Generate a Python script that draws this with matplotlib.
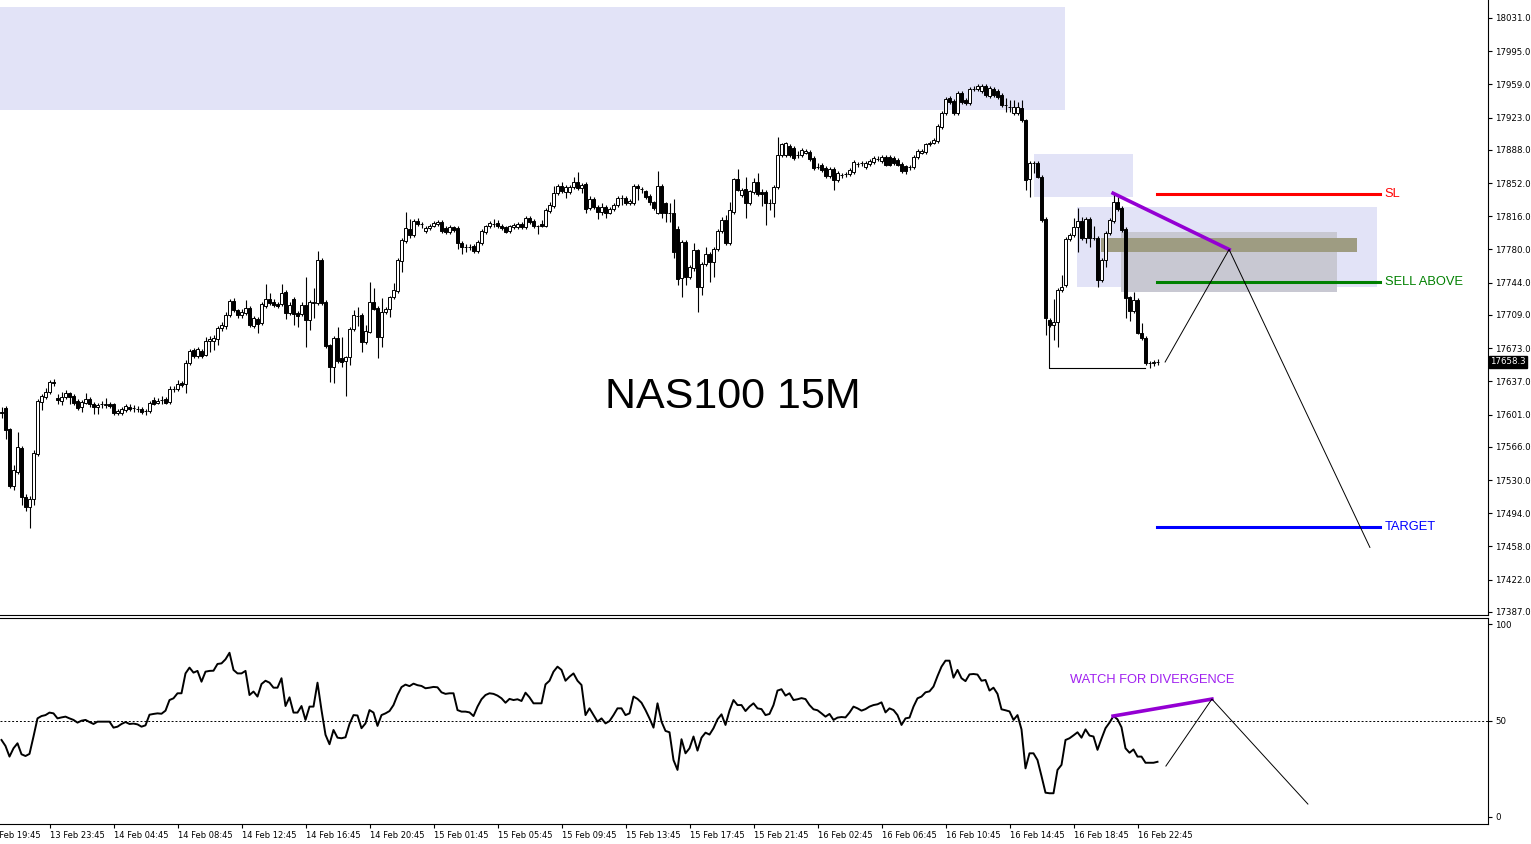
import numpy as np
import matplotlib.pyplot as plt
from matplotlib.transforms import blended_transform_factory

# NAS100 15M candles, bar 0 = first visible bar
opens = [17604, 17608, 17585, 17524, 17539, 17565, 17512, 17501, 17510, 17558,
         17615, 17620, 17625, 17636, 17619, 17616, 17620, 17624, 17621, 17616,
         17609, 17614, 17618, 17613, 17609, 17612, 17611, 17613, 17612, 17603,
         17603, 17606, 17609, 17608, 17607, 17607, 17605, 17605, 17617, 17614,
         17617, 17618, 17615, 17629, 17629, 17635, 17634, 17657, 17671, 17665,
         17670, 17666, 17681, 17681, 17683, 17695, 17697, 17709, 17724, 17714,
         17709, 17711, 17717, 17697, 17705, 17700, 17719, 17726, 17723, 17721,
         17721, 17734, 17711, 17726, 17711, 17710, 17720, 17704, 17722, 17722,
         17769, 17723, 17676, 17653, 17684, 17662, 17659, 17663, 17694, 17708,
         17709, 17680, 17691, 17723, 17717, 17685, 17712, 17715, 17728, 17735,
         17768, 17789, 17802, 17796, 17811, 17808, 17800, 17803, 17806, 17808,
         17810, 17803, 17799, 17804, 17803, 17787, 17783, 17783, 17784, 17778,
         17787, 17799, 17805, 17808, 17809, 17806, 17804, 17800, 17804, 17804,
         17808, 17804, 17814, 17811, 17805, 17808, 17806, 17822, 17827, 17841,
         17849, 17842, 17842, 17848, 17853, 17847, 17851, 17825, 17835, 17826,
         17821, 17826, 17820, 17824, 17828, 17836, 17836, 17830, 17830, 17849,
         17846, 17843, 17838, 17831, 17820, 17849, 17830, 17820, 17820, 17802,
         17749, 17788, 17750, 17760, 17779, 17739, 17764, 17775, 17766, 17780,
         17800, 17812, 17787, 17821, 17856, 17839, 17846, 17830, 17842, 17853,
         17842, 17842, 17830, 17830, 17848, 17882, 17882, 17892, 17890, 17882,
         17882, 17885, 17886, 17879, 17869, 17872, 17868, 17860, 17867, 17855,
         17861, 17862, 17862, 17864, 17873, 17874, 17869, 17873, 17875, 17878,
         17876, 17880, 17880, 17879, 17877, 17873, 17870, 17869, 17869, 17880,
         17885, 17886, 17894, 17896, 17898, 17913, 17928, 17944, 17941, 17928,
         17950, 17942, 17939, 17954, 17954, 17952, 17957, 17946, 17954, 17952,
         17948, 17937, 17935, 17928, 17928, 17933, 17920, 17856, 17874, 17874,
         17859, 17813, 17704, 17698, 17701, 17736, 17741, 17791, 17796, 17804,
         17811, 17792, 17813, 17793, 17793, 17747, 17769, 17798, 17811, 17831,
         17825, 17802, 17728, 17713, 17725, 17690, 17684, 17657, 17657, 17658]
highs = [17609, 17610, 17586, 17546, 17582, 17567, 17515, 17513, 17563, 17618,
         17623, 17630, 17639, 17640, 17623, 17625, 17628, 17626, 17623, 17618,
         17617, 17624, 17620, 17615, 17614, 17616, 17619, 17615, 17614, 17607,
         17609, 17612, 17612, 17611, 17610, 17609, 17607, 17616, 17620, 17619,
         17621, 17620, 17632, 17632, 17638, 17637, 17660, 17672, 17673, 17674,
         17672, 17685, 17686, 17687, 17697, 17701, 17712, 17726, 17727, 17716,
         17715, 17725, 17719, 17708, 17707, 17723, 17743, 17733, 17726, 17723,
         17743, 17736, 17723, 17729, 17713, 17723, 17750, 17725, 17738, 17778,
         17771, 17725, 17678, 17686, 17696, 17685, 17665, 17696, 17714, 17718,
         17711, 17698, 17745, 17738, 17719, 17727, 17718, 17730, 17744, 17771,
         17792, 17821, 17813, 17813, 17814, 17810, 17805, 17808, 17811, 17812,
         17812, 17805, 17807, 17806, 17805, 17789, 17786, 17786, 17786, 17790,
         17802, 17807, 17811, 17813, 17812, 17808, 17806, 17807, 17809, 17810,
         17810, 17816, 17816, 17813, 17807, 17812, 17825, 17832, 17849, 17851,
         17853, 17850, 17850, 17859, 17864, 17852, 17853, 17838, 17837, 17828,
         17830, 17828, 17826, 17830, 17838, 17839, 17838, 17835, 17851, 17851,
         17848, 17845, 17840, 17833, 17865, 17851, 17832, 17830, 17835, 17805,
         17790, 17790, 17763, 17787, 17781, 17766, 17783, 17777, 17783, 17802,
         17815, 17817, 17831, 17858, 17867, 17847, 17859, 17845, 17858, 17863,
         17846, 17844, 17835, 17850, 17902, 17896, 17897, 17894, 17892, 17887,
         17890, 17889, 17888, 17881, 17874, 17874, 17870, 17869, 17869, 17865,
         17863, 17864, 17868, 17877, 17875, 17876, 17876, 17878, 17881, 17881,
         17882, 17882, 17882, 17881, 17879, 17875, 17872, 17872, 17882, 17889,
         17889, 17896, 17898, 17901, 17916, 17930, 17945, 17946, 17943, 17952,
         17952, 17944, 17956, 17957, 17959, 17959, 17959, 17957, 17956, 17954,
         17950, 17944, 17942, 17942, 17940, 17942, 17922, 17876, 17876, 17876,
         17861, 17815, 17706, 17726, 17738, 17752, 17794, 17798, 17814, 17825,
         17815, 17815, 17815, 17806, 17795, 17771, 17800, 17814, 17841, 17837,
         17827, 17804, 17730, 17734, 17727, 17700, 17686, 17659, 17660, 17661]
lows = [17597, 17575, 17521, 17519, 17537, 17503, 17497, 17478, 17503, 17556,
        17606, 17618, 17623, 17632, 17612, 17611, 17618, 17613, 17611, 17606,
        17604, 17612, 17609, 17602, 17602, 17608, 17608, 17608, 17601, 17601,
        17601, 17604, 17605, 17604, 17604, 17602, 17601, 17603, 17611, 17612,
        17613, 17612, 17613, 17626, 17627, 17631, 17624, 17655, 17662, 17662,
        17662, 17664, 17669, 17671, 17676, 17692, 17694, 17707, 17712, 17706,
        17706, 17709, 17696, 17695, 17690, 17698, 17717, 17720, 17718, 17717,
        17719, 17705, 17709, 17698, 17696, 17708, 17674, 17693, 17706, 17720,
        17720, 17673, 17636, 17635, 17657, 17653, 17621, 17655, 17692, 17697,
        17669, 17678, 17689, 17714, 17662, 17674, 17710, 17707, 17726, 17733,
        17756, 17787, 17793, 17794, 17806, 17803, 17798, 17801, 17804, 17806,
        17798, 17797, 17797, 17799, 17781, 17775, 17777, 17779, 17776, 17776,
        17785, 17797, 17803, 17804, 17803, 17801, 17798, 17798, 17802, 17802,
        17802, 17802, 17808, 17803, 17797, 17804, 17804, 17820, 17825, 17839,
        17841, 17836, 17840, 17846, 17845, 17841, 17820, 17823, 17824, 17813,
        17817, 17814, 17818, 17822, 17826, 17828, 17828, 17828, 17828, 17834,
        17841, 17835, 17828, 17823, 17818, 17814, 17810, 17810, 17771, 17741,
        17728, 17741, 17748, 17757, 17712, 17731, 17762, 17745, 17750, 17778,
        17798, 17785, 17785, 17819, 17843, 17837, 17814, 17828, 17840, 17838,
        17827, 17807, 17823, 17815, 17846, 17880, 17880, 17880, 17877, 17879,
        17880, 17883, 17876, 17866, 17867, 17864, 17858, 17858, 17845, 17853,
        17857, 17859, 17860, 17862, 17869, 17871, 17867, 17871, 17873, 17876,
        17874, 17870, 17870, 17872, 17870, 17863, 17862, 17866, 17867, 17878,
        17883, 17884, 17892, 17894, 17896, 17911, 17926, 17938, 17926, 17926,
        17938, 17937, 17937, 17952, 17952, 17950, 17945, 17944, 17945, 17943,
        17935, 17929, 17929, 17926, 17926, 17918, 17844, 17837, 17863, 17857,
        17810, 17687, 17696, 17682, 17674, 17734, 17739, 17789, 17794, 17777,
        17790, 17787, 17783, 17790, 17739, 17745, 17761, 17796, 17809, 17822,
        17799, 17706, 17703, 17711, 17688, 17682, 17655, 17651, 17654, 17655]
closes = [17603, 17584, 17524, 17541, 17566, 17512, 17501, 17510, 17559, 17616,
          17621, 17626, 17636, 17635, 17617, 17620, 17624, 17620, 17614, 17608,
          17615, 17618, 17613, 17609, 17611, 17612, 17612, 17610, 17603, 17605,
          17607, 17610, 17607, 17608, 17607, 17604, 17605, 17614, 17613, 17616,
          17617, 17614, 17629, 17629, 17634, 17633, 17657, 17670, 17665, 17672,
          17665, 17681, 17683, 17684, 17695, 17698, 17709, 17724, 17714, 17709,
          17712, 17717, 17698, 17706, 17699, 17721, 17726, 17722, 17720, 17719,
          17733, 17711, 17720, 17710, 17708, 17720, 17704, 17723, 17723, 17769,
          17722, 17675, 17653, 17684, 17659, 17658, 17663, 17694, 17709, 17708,
          17680, 17692, 17723, 17716, 17685, 17712, 17715, 17728, 17736, 17769,
          17790, 17803, 17796, 17811, 17808, 17808, 17803, 17806, 17809, 17810,
          17800, 17799, 17804, 17801, 17787, 17783, 17783, 17783, 17778, 17788,
          17800, 17805, 17809, 17808, 17805, 17803, 17799, 17805, 17807, 17808,
          17804, 17814, 17810, 17805, 17805, 17806, 17823, 17828, 17841, 17849,
          17843, 17848, 17848, 17853, 17847, 17850, 17824, 17835, 17826, 17821,
          17826, 17820, 17824, 17828, 17836, 17836, 17830, 17833, 17849, 17847,
          17846, 17837, 17831, 17825, 17849, 17820, 17820, 17820, 17777, 17748,
          17788, 17750, 17761, 17779, 17739, 17764, 17775, 17766, 17781, 17800,
          17812, 17787, 17823, 17856, 17845, 17845, 17830, 17843, 17853, 17840,
          17840, 17830, 17830, 17848, 17882, 17894, 17895, 17882, 17879, 17882,
          17888, 17887, 17878, 17868, 17869, 17866, 17860, 17867, 17855, 17863,
          17861, 17862, 17866, 17875, 17873, 17874, 17874, 17876, 17879, 17878,
          17880, 17872, 17872, 17874, 17872, 17865, 17865, 17869, 17880, 17887,
          17887, 17894, 17896, 17899, 17914, 17928, 17943, 17940, 17928, 17950,
          17940, 17939, 17954, 17954, 17957, 17957, 17947, 17955, 17947, 17945,
          17937, 17937, 17935, 17935, 17935, 17920, 17855, 17874, 17874, 17859,
          17812, 17706, 17698, 17701, 17736, 17739, 17791, 17796, 17804, 17811,
          17792, 17813, 17792, 17793, 17747, 17769, 17798, 17812, 17831, 17824,
          17801, 17727, 17713, 17725, 17690, 17684, 17657, 17657, 17658, 17658]
rsi = [39.9, 36.8, 31.3, 35.6, 38.2, 32.5, 31.6, 32.7, 41.7, 51.1,
       52.3, 52.8, 54.1, 53.7, 51.1, 51.6, 52.0, 51.1, 50.3, 48.9,
       49.9, 50.3, 49.2, 48.2, 49.4, 49.4, 49.4, 49.4, 46.3, 46.8,
       48.2, 49.2, 48.2, 48.4, 48.0, 46.8, 47.5, 53.0, 53.4, 53.7,
       53.5, 55.1, 60.6, 61.5, 64.1, 64.1, 74.4, 77.4, 74.8, 75.7,
       70.1, 75.3, 75.7, 75.8, 79.3, 79.6, 81.7, 85.1, 76.2, 74.4,
       74.4, 75.7, 63.2, 65.0, 62.4, 68.9, 70.6, 69.6, 67.0, 67.0,
       71.9, 57.5, 62.0, 54.1, 54.1, 57.5, 50.3, 57.2, 57.2, 69.6,
       55.4, 42.6, 37.7, 45.1, 41.1, 40.8, 41.3, 48.2, 52.8, 52.6,
       46.0, 48.5, 55.4, 54.1, 47.2, 52.8, 53.7, 54.9, 58.0, 63.2,
       67.3, 68.6, 67.8, 69.1, 68.3, 67.9, 66.7, 67.0, 67.4, 67.2,
       64.6, 63.8, 64.1, 64.1, 55.4, 54.6, 54.6, 54.2, 52.3, 57.2,
       61.0, 63.2, 64.1, 63.8, 62.9, 61.5, 59.2, 61.2, 60.6, 61.0,
       60.1, 64.4, 62.0, 58.9, 58.9, 58.9, 68.7, 70.6, 75.3, 77.9,
       76.2, 70.6, 72.7, 74.4, 70.6, 68.4, 52.8, 56.3, 52.8, 49.4,
       51.1, 48.5, 49.7, 52.8, 56.3, 56.3, 52.8, 53.7, 62.4, 61.2,
       59.2, 55.4, 51.1, 46.3, 58.9, 49.4, 44.6, 43.9, 29.5, 24.4,
       40.3, 33.0, 35.6, 41.7, 34.4, 41.1, 43.7, 42.7, 46.0, 50.6,
       53.2, 47.7, 55.1, 60.6, 58.0, 58.0, 54.9, 57.2, 58.9, 56.3,
       55.9, 52.8, 53.4, 58.0, 65.5, 66.2, 62.9, 64.1, 60.6, 61.0,
       61.6, 61.1, 58.0, 55.8, 55.3, 53.7, 52.0, 53.4, 50.3, 51.5,
       51.8, 51.6, 54.1, 57.2, 56.3, 55.1, 55.9, 57.2, 58.0, 58.4,
       59.4, 54.2, 56.3, 55.4, 52.8, 47.7, 51.1, 51.5, 57.2, 61.5,
       62.4, 64.6, 65.1, 67.6, 73.0, 77.9, 81.0, 81.0, 72.2, 76.2,
       71.9, 70.4, 73.9, 74.1, 73.8, 70.6, 71.0, 65.5, 67.0, 63.8,
       55.8, 55.3, 54.7, 50.3, 52.8, 45.4, 25.2, 33.0, 33.0, 29.5,
       21.2, 12.6, 12.3, 12.3, 24.4, 27.0, 39.9, 40.8, 42.3, 43.9,
       41.1, 45.4, 42.2, 41.7, 34.8, 40.6, 46.0, 48.9, 52.3, 50.6,
       46.5, 35.6, 33.3, 35.0, 31.3, 31.3, 28.1, 28.1, 28.1, 28.6]

price_ticks = [18031, 17995, 17959, 17923, 17888, 17852, 17816, 17780, 17744, 17709,
               17673, 17637, 17601, 17566, 17530, 17494, 17458, 17422, 17387]
last_price = 17658.3
time_bars = [-4, 12, 28, 44, 60, 76, 92, 108, 124, 140,
             156, 172, 188, 204, 220, 236, 252, 268, 284]
time_labels = ['13 Feb 19:45', '13 Feb 23:45', '14 Feb 04:45', '14 Feb 08:45', '14 Feb 12:45',
               '14 Feb 16:45', '14 Feb 20:45', '15 Feb 01:45', '15 Feb 05:45', '15 Feb 09:45',
               '15 Feb 13:45', '15 Feb 17:45', '15 Feb 21:45', '16 Feb 02:45', '16 Feb 06:45',
               '16 Feb 10:45', '16 Feb 14:45', '16 Feb 18:45', '16 Feb 22:45']

# drawn objects: zones (bar from, bar to, price low, price high, colour)
zones = [(-1, 265.9, 17931, 18043, '#E2E3F7'),
         (258.1, 282.9, 17837, 17883, '#E2E3F7'),
         (268.9, 343.9, 17739, 17826, '#E2E3F7'),
         (279.9, 333.9, 17734, 17799, '#C8C8D2'),
         (274.9, 338.9, 17777, 17792, '#9E9C82')]
levels = [('SL', 17840, '#FF0000'), ('SELL ABOVE', 17745, '#008000'), ('TARGET', 17479, '#0000FF')]
level_from, level_to = 288.9, 344.6
purple_px = ([277.9, 306.9], [17841, 17780])
path_px = ([290.9, 306.9, 342.1], [17658, 17780, 17457])
bracket_px = ([261.9, 261.9, 285.9], [17698, 17651, 17651])
purple_rsi = ([277.9, 302.6], [52.3, 61.1])
path_rsi = ([291.1, 302.6, 326.6], [26.4, 61.1, 6.7])

W, H = 1531, 844
fig = plt.figure(figsize=(W / 100, H / 100), dpi=100)
ax = fig.add_axes([0, 1 - 615 / H, 1488 / W, 615 / H])
ax2 = fig.add_axes([0, 1 - 824 / H, 1488 / W, 206 / H])

x = np.arange(len(closes))
o, c = np.array(opens), np.array(closes)
up = c >= o

for x0, x1, lo, hi, col in zones:
    ax.fill_between([x0, x1], lo, hi, color=col, lw=0, zorder=0)

ax.vlines(x, lows, highs, color='black', lw=0.8, zorder=2)
ax.bar(x, np.abs(c - o), bottom=np.minimum(o, c), width=0.6,
       color=np.where(up, 'white', 'black'), edgecolor='black', linewidth=0.7, zorder=3)

for name, lvl, col in levels:
    ax.plot([level_from, level_to], [lvl, lvl], color=col, lw=2.2, zorder=4)
    ax.text(level_to + 1.2, lvl, name, color=col, fontsize=9.3, va='center',
            family='Liberation Sans')

ax.plot(*purple_px, color='#9400D3', lw=2.6, zorder=5)
ax.plot(*path_px, color='black', lw=0.7, zorder=5)
ax.plot(*bracket_px, color='black', lw=0.8, zorder=5)
ax.text(182.9, 17620, 'NAS100 15M', fontsize=31, ha='center', va='center',
        family='Liberation Sans')

ax.set_xlim(-0.375, 371.625)
ax.set_ylim(18050.5 - 615 * 1.0842, 18050.5)
ax.yaxis.tick_right()
ax.set_yticks(price_ticks, [f'{p:.1f}' for p in price_ticks])
ax.tick_params(axis='y', labelsize=6.2, length=3, pad=2)
ax.set_xticks([])
for s in ['left', 'top']:
    ax.spines[s].set_visible(False)

tr = blended_transform_factory(ax.transAxes, ax.transData)
ax.text(1.0015, last_price, f'{last_price:.1f}', transform=tr, fontsize=6.2, color='white',
        va='center', ha='left', bbox=dict(boxstyle='square,pad=0.15', fc='black', ec='black'))

# RSI pane
ax2.plot(x, rsi, color='black', lw=1.4)
ax2.axhline(50, color='black', lw=0.7, ls=(0, (2, 2)))
ax2.plot(*purple_rsi, color='#9400D3', lw=2.6)
ax2.plot(*path_rsi, color='black', lw=0.7)
ax2.text(267.1, 71.0, 'WATCH FOR DIVERGENCE', color='#A020F0', fontsize=9.3, va='center',
         family='Liberation Sans')
ax2.set_xlim(-0.375, 371.625)
ax2.set_ylim((817 - 824) / 1.93, (817 - 618) / 1.93)
ax2.yaxis.tick_right()
ax2.set_yticks([100, 50, 0], ['100', '50', '0'])
ax2.tick_params(axis='y', labelsize=6.2, length=3, pad=2)
ax2.set_xticks(time_bars[1:], time_labels[1:])
ax2.tick_params(axis='x', labelsize=6.0, length=3, pad=2)
for lab in ax2.get_xticklabels():
    lab.set_horizontalalignment('left')
ax2.text(time_bars[0], -5 / 72 * 100 / 206, time_labels[0],
         transform=blended_transform_factory(ax2.transData, ax2.transAxes),
         fontsize=6.0, ha='left', va='top')
ax2.spines['left'].set_visible(False)

fig.savefig('out.png', dpi=100)
